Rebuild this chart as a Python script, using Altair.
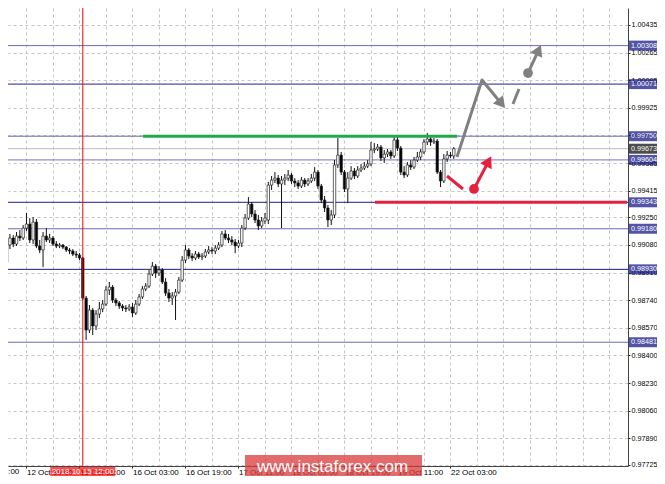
import altair as alt
import pandas as pd

FONT = "Liberation Sans"

# ---------------- candle data (H1 bars, index 0 = 12 Oct 12:00) ----------------
opens = [0.99049, 0.98975, 0.99080, 0.99123, 0.99086, 0.99135, 0.99123, 0.99184, 0.99209, 0.99111,
         0.99221, 0.99074, 0.99049, 0.99135, 0.99111, 0.99123, 0.99086, 0.99074, 0.99080, 0.99067,
         0.99049, 0.99043, 0.99024, 0.99018, 0.99000, 0.98753, 0.98556, 0.98679, 0.98581, 0.98655,
         0.98686, 0.98716, 0.98803, 0.98821, 0.98741, 0.98723, 0.98704, 0.98692, 0.98686, 0.98698,
         0.98661, 0.98716, 0.98760, 0.98809, 0.98827, 0.98901, 0.98950, 0.98907, 0.98926, 0.98852,
         0.98784, 0.98753, 0.98766, 0.98790, 0.98864, 0.98987, 0.99049, 0.99012, 0.99000, 0.99024,
         0.99006, 0.99012, 0.99037, 0.99049, 0.99043, 0.99061, 0.99080, 0.99148, 0.99123, 0.99111,
         0.99098, 0.99074, 0.99092, 0.99184, 0.99246, 0.99332, 0.99271, 0.99234, 0.99197, 0.99228,
         0.99234, 0.99449, 0.99480, 0.99492, 0.99456, 0.99480, 0.99492, 0.99511, 0.99474, 0.99462,
         0.99443, 0.99480, 0.99456, 0.99474, 0.99492, 0.99529, 0.99443, 0.99357, 0.99308, 0.99234,
         0.99265, 0.99573, 0.99634, 0.99529, 0.99425, 0.99492, 0.99536, 0.99505, 0.99542, 0.99554,
         0.99566, 0.99579, 0.99665, 0.99671, 0.99683, 0.99616, 0.99640, 0.99653, 0.99628, 0.99727,
         0.99677, 0.99529, 0.99511, 0.99573, 0.99560, 0.99603, 0.99622, 0.99653, 0.99714, 0.99733,
         0.99714, 0.99720, 0.99529, 0.99474, 0.99610, 0.99634, 0.99628]
highs = [0.99074, 0.99098, 0.99148, 0.99141, 0.99160, 0.99172, 0.99203, 0.99277, 0.99246, 0.99252,
         0.99240, 0.99111, 0.99160, 0.99184, 0.99148, 0.99135, 0.99104, 0.99092, 0.99086, 0.99074,
         0.99061, 0.99055, 0.99043, 0.99030, 0.99006, 0.98766, 0.98710, 0.98692, 0.98679, 0.98729,
         0.98741, 0.98827, 0.98852, 0.98833, 0.98753, 0.98735, 0.98716, 0.98710, 0.98716, 0.98723,
         0.98741, 0.98778, 0.98827, 0.98846, 0.98926, 0.98975, 0.98963, 0.98950, 0.98938, 0.98876,
         0.98809, 0.98790, 0.98809, 0.98883, 0.99012, 0.99080, 0.99061, 0.99030, 0.99043, 0.99037,
         0.99030, 0.99055, 0.99074, 0.99067, 0.99080, 0.99098, 0.99166, 0.99172, 0.99148, 0.99135,
         0.99117, 0.99111, 0.99203, 0.99271, 0.99375, 0.99345, 0.99295, 0.99265, 0.99252, 0.99277,
         0.99468, 0.99505, 0.99529, 0.99511, 0.99505, 0.99517, 0.99542, 0.99523, 0.99492, 0.99480,
         0.99499, 0.99492, 0.99492, 0.99517, 0.99560, 0.99542, 0.99456, 0.99382, 0.99326, 0.99295,
         0.99603, 0.99739, 0.99653, 0.99542, 0.99529, 0.99566, 0.99554, 0.99566, 0.99579, 0.99591,
         0.99603, 0.99714, 0.99708, 0.99702, 0.99696, 0.99665, 0.99671, 0.99665, 0.99757, 0.99745,
         0.99690, 0.99566, 0.99591, 0.99603, 0.99622, 0.99653, 0.99671, 0.99733, 0.99770, 0.99751,
         0.99739, 0.99733, 0.99542, 0.99640, 0.99659, 0.99653, 0.99683]
lows = [0.98913, 0.98957, 0.99055, 0.99067, 0.99074, 0.99104, 0.99111, 0.99166, 0.99092, 0.99086,
        0.99061, 0.99030, 0.98944, 0.99098, 0.99092, 0.99074, 0.99061, 0.99061, 0.99055, 0.99037,
        0.99024, 0.99012, 0.99000, 0.98987, 0.98741, 0.98495, 0.98538, 0.98525, 0.98556, 0.98630,
        0.98667, 0.98704, 0.98772, 0.98723, 0.98704, 0.98686, 0.98673, 0.98667, 0.98673, 0.98636,
        0.98649, 0.98704, 0.98747, 0.98796, 0.98815, 0.98889, 0.98876, 0.98889, 0.98840, 0.98766,
        0.98729, 0.98710, 0.98618, 0.98778, 0.98852, 0.98969, 0.98994, 0.98981, 0.98987, 0.98994,
        0.98987, 0.99000, 0.99024, 0.99024, 0.99024, 0.99049, 0.99067, 0.99111, 0.99092, 0.99080,
        0.99030, 0.99061, 0.99067, 0.99172, 0.99234, 0.99252, 0.99215, 0.99172, 0.99184, 0.99209,
        0.99209, 0.99419, 0.99462, 0.99437, 0.99184, 0.99449, 0.99474, 0.99456, 0.99437, 0.99425,
        0.99431, 0.99437, 0.99443, 0.99462, 0.99474, 0.99425, 0.99338, 0.99283, 0.99191, 0.99203,
        0.99246, 0.99554, 0.99511, 0.99406, 0.99338, 0.99480, 0.99486, 0.99492, 0.99529, 0.99542,
        0.99554, 0.99566, 0.99646, 0.99659, 0.99597, 0.99585, 0.99622, 0.99610, 0.99616, 0.99659,
        0.99511, 0.99492, 0.99499, 0.99542, 0.99548, 0.99591, 0.99603, 0.99640, 0.99696, 0.99690,
        0.99702, 0.99517, 0.99437, 0.99462, 0.99591, 0.99616, 0.99610]
closes = [0.98938, 0.99080, 0.99123, 0.99086, 0.99135, 0.99123, 0.99184, 0.99209, 0.99111, 0.99221,
          0.99074, 0.99049, 0.99135, 0.99111, 0.99123, 0.99086, 0.99074, 0.99080, 0.99067, 0.99049,
          0.99043, 0.99024, 0.99018, 0.99000, 0.98753, 0.98556, 0.98679, 0.98581, 0.98655, 0.98686,
          0.98716, 0.98803, 0.98821, 0.98741, 0.98723, 0.98704, 0.98692, 0.98686, 0.98698, 0.98661,
          0.98716, 0.98760, 0.98809, 0.98827, 0.98901, 0.98950, 0.98907, 0.98926, 0.98852, 0.98784,
          0.98753, 0.98766, 0.98790, 0.98864, 0.98987, 0.99049, 0.99012, 0.99000, 0.99024, 0.99006,
          0.99012, 0.99037, 0.99049, 0.99043, 0.99061, 0.99080, 0.99148, 0.99123, 0.99111, 0.99098,
          0.99074, 0.99092, 0.99184, 0.99246, 0.99332, 0.99271, 0.99234, 0.99197, 0.99228, 0.99246,
          0.99449, 0.99480, 0.99492, 0.99456, 0.99480, 0.99492, 0.99511, 0.99474, 0.99462, 0.99443,
          0.99480, 0.99456, 0.99474, 0.99492, 0.99529, 0.99443, 0.99357, 0.99308, 0.99234, 0.99265,
          0.99573, 0.99634, 0.99529, 0.99425, 0.99492, 0.99536, 0.99505, 0.99542, 0.99554, 0.99566,
          0.99579, 0.99665, 0.99671, 0.99683, 0.99616, 0.99640, 0.99653, 0.99628, 0.99727, 0.99677,
          0.99529, 0.99511, 0.99573, 0.99560, 0.99603, 0.99622, 0.99653, 0.99714, 0.99733, 0.99714,
          0.99720, 0.99529, 0.99474, 0.99610, 0.99634, 0.99628, 0.99673]
bars = list(range(len(closes)))

# ---------------- time axis ----------------
label_bars = [7, 23, 39, 55, 71, 87, 103, 119, 135]
label_texts = ["12 Oct 19:00", "15 Oct 11:00", "16 Oct 03:00", "16 Oct 19:00", "17 Oct 11:00",
               "18 Oct 03:00", "18 Oct 19:00", "19 Oct 11:00", "22 Oct 03:00"]
first_label_bar = [-9]
first_label_text = ["12 Oct 03:00"]
grid_bars = list(range(7, 189, 8))
marker_bar = [24]
marker_text = ["2018.10.15 12:00"]

# ---------------- price axis ----------------
y_ticks = [1.00435, 1.00265, 1.00095, 0.99925, 0.99755, 0.99585, 0.99415, 0.99250, 0.99080,
           0.98910, 0.98740, 0.98570, 0.98400, 0.98230, 0.98060, 0.97890, 0.97725]
level_prices = [1.00308, 1.00071, 0.99750, 0.99604, 0.99343, 0.99180, 0.98930, 0.98481]
level_colors = ["#6a6ab8", "#23238c", "#6a6ab8", "#7474c0", "#1c1c88", "#6a6ab8", "#1c1c88", "#6a6ab8"]
current_price = [0.99673]

# ---------------- analysis drawings ----------------
green_seg = {"bar": [42.2], "bar2": [137.0], "price": [0.99750]}
red_seg = {"bar": [112.2], "bar2": [188.3], "price": [0.99343]}
path_seg = ["g1", "g1", "g1", "g2", "g2", "g3", "g3", "r1", "r1", "r2", "r2"]
path_bars = [136.97, 144.51, 150.4, 153.87, 155.68, 158.4, 161.6, 133.95, 138.78, 142.1, 146.5]
path_prices = [0.99622, 1.00096, 0.99950, 0.99948, 1.00041, 1.00139, 1.00281, 0.99505, 0.99425, 0.99425, 0.99596]
path_colors = ["#808080"] * 7 + ["#e5213d"] * 4
dot_bars = [158.4, 142.1]
dot_prices = [1.00139, 0.99425]
dot_colors = ["#808080", "#e5213d"]
head_bars = [150.4, 161.6, 146.5]
head_prices = [0.99950, 1.00281, 0.99596]
head_angles = [140.6, 24.9, 27.9]
head_colors = ["#808080", "#808080", "#e5213d"]

# ---------------- scales / axes ----------------
PLOT_W, PLOT_H = 620, 458
xscale = alt.Scale(domain=[1.42, 188.59], nice=False, zero=False, padding=0)
yscale = alt.Scale(domain=[0.977188, 1.005397], nice=False, zero=False, padding=0)

lab_expr = "".join(f"datum.value == {b} ? '{t}' : " for b, t in zip(label_bars, label_texts)) + "''"
lab_test = "indexof([" + ",".join(str(b) for b in label_bars) + "], datum.value) >= 0"

xaxis = alt.Axis(values=grid_bars, labelExpr=lab_expr, labelAlign="left", labelFont=FONT,
                 labelFontSize=8, labelColor="black", labelPadding=0, labelFlush=False,
                 labelOverlap=False, tickSize=2, tickColor="#222",
                 tickOpacity={"condition": {"test": lab_test, "value": 1}, "value": 0},
                 grid=True, gridColor="#c4c4c4", gridDash=[3, 3], domainColor="#444", title=None)
yaxis = alt.Axis(orient="right", values=y_ticks, format=".5f", labelFont=FONT, labelFontSize=7.2,
                 labelColor="black", labelPadding=1, labelOverlap=False, labelFlush=False,
                 tickSize=2, tickColor="#222", grid=True, gridColor="#c4c4c4", gridDash=[3, 3],
                 domainColor="#444", title=None)


def X(f):
    return alt.X(f"{f}:Q", scale=xscale, axis=xaxis)


def Y(f):
    return alt.Y(f"{f}:Q", scale=yscale, axis=yaxis)


candles = pd.DataFrame({"bar": bars, "open": opens, "high": highs, "low": lows, "close": closes})
levels = pd.DataFrame({"price": level_prices, "lc": level_colors})
boxes = pd.DataFrame({
    "price": level_prices + current_price,
    "label": [f"{p:.5f}" for p in level_prices + current_price],
    "bc": ["#0c0c80"] * len(level_prices) + ["#000000"],
})
paths = pd.DataFrame({"bar": path_bars, "price": path_prices, "seg": path_seg,
                      "ord": list(range(len(path_bars))), "c": path_colors})
dots = pd.DataFrame({"bar": dot_bars, "price": dot_prices, "c": dot_colors})
heads = pd.DataFrame({"bar": head_bars, "price": head_prices, "angle": head_angles, "c": head_colors})
one = pd.DataFrame({"t": [0]})

level_rules = alt.Chart(levels).mark_rule(strokeWidth=1).encode(
    y=Y("price"), color=alt.Color("lc:N", scale=None))
cur_rule = alt.Chart(pd.DataFrame({"price": current_price})).mark_rule(
    color="#bdbdbd", strokeWidth=1).encode(y=Y("price"))
wicks = alt.Chart(candles).mark_rule(color="#111", strokeWidth=1, clip=True).encode(
    x=X("bar"), y=Y("low"), y2="high")
bodies = alt.Chart(candles).mark_bar(size=2.4, stroke="#222", strokeWidth=0.7, clip=True).encode(
    x=X("bar"), y=Y("open"), y2="close",
    fill=alt.condition("datum.close >= datum.open", alt.value("white"), alt.value("black")))
vline = alt.Chart(pd.DataFrame({"bar": marker_bar})).mark_rule(color="#ff0000", strokeWidth=1).encode(
    x=X("bar"))
green = alt.Chart(pd.DataFrame(green_seg)).mark_rule(color="#22a84a", strokeWidth=3).encode(
    x=X("bar"), x2="bar2", y=Y("price"))
red = alt.Chart(pd.DataFrame(red_seg)).mark_rule(color="#e5213d", strokeWidth=3).encode(
    x=X("bar"), x2="bar2", y=Y("price"))
lines = alt.Chart(paths).mark_line(strokeWidth=3, strokeJoin="round").encode(
    x=X("bar"), y=Y("price"), detail="seg:N", order="ord:Q", color=alt.Color("c:N", scale=None))
dot_marks = alt.Chart(dots).mark_circle(size=95, opacity=1).encode(
    x=X("bar"), y=Y("price"), color=alt.Color("c:N", scale=None))
head_marks = alt.Chart(heads).mark_point(shape="triangle-up", filled=True, size=170, opacity=1).encode(
    x=X("bar"), y=Y("price"), angle=alt.Angle("angle:Q", scale=None), color=alt.Color("c:N", scale=None))
box_marks = alt.Chart(boxes).mark_tick(orient="horizontal", size=28, thickness=10).encode(
    x=alt.value(635), y=Y("price"), color=alt.Color("bc:N", scale=None))
box_text = alt.Chart(boxes).mark_text(align="left", baseline="middle", font=FONT, fontSize=7.2,
                                      color="white").encode(
    x=alt.value(623), y=Y("price"), text="label:N")
mark_df = pd.DataFrame({"bar": marker_bar, "label": marker_text})
date_box = alt.Chart(mark_df).mark_tick(orient="horizontal", size=65, thickness=11, color="#ff0000").encode(
    x=X("bar"), y=alt.value(PLOT_H + 6.5))
date_text = alt.Chart(mark_df).mark_text(align="center", baseline="top", font=FONT, fontSize=8,
                                         color="white").encode(
    x=X("bar"), y=alt.value(PLOT_H + 2), text="label:N")
first_lab = alt.Chart(pd.DataFrame({"bar": first_label_bar, "label": first_label_text})).mark_text(
    align="left", baseline="top", font=FONT, fontSize=8, color="black").encode(
    x=X("bar"), y=alt.value(PLOT_H + 2), text="label:N")
wm_box = alt.Chart(one).mark_rect(color="#d93a3a", opacity=0.75).encode(
    x=alt.value(237), x2=alt.value(414), y=alt.value(447), y2=alt.value(PLOT_H + 10))
wm_text = alt.Chart(one).mark_text(text="www.instaforex.com", font=FONT, fontSize=17, color="white",
                                   align="left", baseline="middle").encode(
    x=alt.value(249), y=alt.value(459))

chart = alt.layer(
    level_rules, cur_rule, wicks, bodies, vline, green, red, lines, dot_marks, head_marks,
    box_marks, box_text, date_box, date_text, first_lab, wm_box, wm_text
).properties(
    width=PLOT_W, height=PLOT_H,
    padding={"left": 0, "top": 0, "right": 29, "bottom": 10},
    autosize=alt.AutoSizeParams(type="none"),
    background="white",
).configure_view(stroke=None)

chart.save("out.html", embed_options={"renderer": "svg", "actions": False})
